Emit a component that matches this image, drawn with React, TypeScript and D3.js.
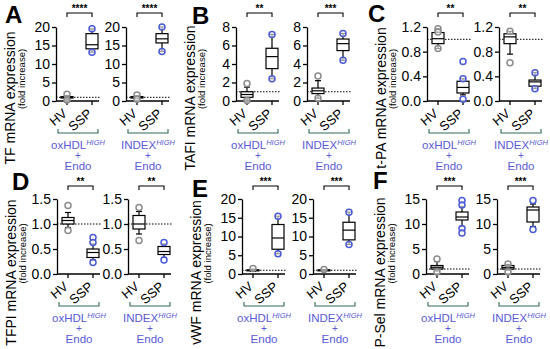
import { useRef, useEffect } from 'react';
import * as d3 from 'd3';

// values
const LETTERS = ['A', 'B', 'C', 'D', 'E', 'F'];
const GENES = ['TF', 'TAFI', 't-PA', 'TFPI', 'vWF', 'P-Sel'];
const Y_MAX = [20, 8, 1.2, 1.5, 20, 15];
const Y_TICKS = [
  [0, 5, 10, 15, 20],
  [0, 2, 4, 6, 8],
  [0, 0.4, 0.8, 1.2],
  [0, 0.5, 1.0, 1.5],
  [0, 5, 10, 15, 20],
  [0, 5, 10, 15],
];
const TICK_DECIMALS = [0, 0, 1, 1, 0, 0];
const CONDITIONS = ['oxHDL', 'INDEX'];
const GROUPS = ['HV', 'SSP'];
const STARS = [
  ['****', '****'],
  ['**', '***'],
  ['**', '**'],
  ['**', '**'],
  ['***', '***'],
  ['***', '***'],
];

// [low whisker, q1, median, q3, high whisker] per panel, per condition
const HV_BOX = [
  [[0.5, 0.8, 1.0, 1.2, 1.5], [0.6, 0.8, 1.0, 1.2, 1.4]],
  [[0.1, 0.4, 0.7, 1.0, 1.5], [0.3, 0.8, 1.1, 1.4, 2.2]],
  [[0.85, 0.93, 1.01, 1.11, 1.17], [0.76, 0.93, 1.04, 1.09, 1.13]],
  [[0.93, 1.0, 1.07, 1.13, 1.23], [0.8, 0.9, 1.0, 1.17, 1.25]],
  [[0.7, 0.9, 1.0, 1.1, 1.3], [0.8, 0.9, 1.0, 1.1, 1.2]],
  [[0.6, 1.0, 1.35, 1.7, 2.5], [0.8, 1.0, 1.3, 1.7, 1.9]],
];
const HV_POINTS = [
  [[1.8, 0.3], [1.6, 0.5]],
  [[1.9, 0.05], [2.7, 0.3]],
  [[1.17, 1.12, 0.85], [1.13, 0.62]],
  [[1.37, 0.87], [1.33, 0.67]],
  [[1.5], [1.2]],
  [[3.0, 0.4], [2.0, 0.4]],
];
const SSP_BOX = [
  [[13.2, 14.1, 15.2, 18.2, 19.5], [13.4, 15.7, 16.8, 18.2, 20.0]],
  [[2.4, 3.5, 4.8, 5.7, 7.2], [4.4, 5.45, 6.2, 6.7, 7.3]],
  [[0.1, 0.13, 0.22, 0.32, 0.36], [0.2, 0.24, 0.31, 0.34, 0.46]],
  [[0.28, 0.33, 0.43, 0.5, 0.6], [0.33, 0.39, 0.45, 0.55, 0.6]],
  [[5.4, 6.6, 9.6, 13.2, 15.4], [7.9, 9.1, 11.7, 13.8, 16.5]],
  [[9.5, 10.8, 11.4, 12.4, 13.5], [9.5, 10.4, 12.8, 13.4, 14.0]],
];
const SSP_POINTS = [
  [[19.5, 13.2], [20.0, 13.4]],
  [[7.2, 2.4], [7.3, 4.4]],
  [[0.64, 0.36, 0.03], [0.46, 0.2]],
  [[0.73, 0.63, 0.23], [0.63, 0.28]],
  [[15.4, 5.4], [16.5, 7.9]],
  [[14.7, 13.8, 9.1, 8.2], [14.7, 8.9]],
];

// layout
const AXIS_X = [[56, 126], [236, 307], [427, 499], [57, 128], [242, 313], [426, 497]];
const ROW_ZERO = [101, 274];
const ROW_TOP = [27, 199];
const LETTER_POS = [[5, 23], [192, 24], [368, 22], [12, 190], [192, 197], [373, 189]];
const FONT = '"Liberation Sans", Arial, sans-serif';
const BLUE = '#4b5bd4';
const GREY = '#8c8c8c';
const LABEL_BLUE = '#5a5ad6';
const BRACKET_GREEN = '#2e6b55';

export default function App() {
  const svgRef = useRef<SVGSVGElement>(null);

  useEffect(() => {
    if (!svgRef.current) return;
    const svg = d3.select(svgRef.current);
    svg.selectAll('*').remove();

    LETTERS.forEach((letter, p) => {
      const row = p < 3 ? 0 : 1;
      const zero = ROW_ZERO[row];
      const y = d3.scaleLinear().domain([0, Y_MAX[p]]).range([zero, ROW_TOP[row]]);
      const fmt = d3.format(`.${TICK_DECIMALS[p]}f`);
      const ax0 = AXIS_X[p][0];
      const midY = (ROW_TOP[row] + zero) / 2 + 34 + row * 2;

      // panel letter
      svg.append('text')
        .attr('x', LETTER_POS[p][0])
        .attr('y', LETTER_POS[p][1])
        .attr('font-size', 24)
        .attr('font-weight', 700)
        .attr('font-family', FONT)
        .text(letter);

      // y titles
      svg.append('text')
        .attr('transform', `translate(${ax0 - 41},${midY}) rotate(-90)`)
        .attr('text-anchor', 'middle')
        .attr('font-size', 14)
        .attr('font-family', FONT)
        .text(`${GENES[p]} mRNA expression`);
      svg.append('text')
        .attr('transform', `translate(${ax0 - 31},${midY - 19}) rotate(-90)`)
        .attr('text-anchor', 'middle')
        .attr('font-size', 9.5)
        .attr('font-family', FONT)
        .text('(fold increase)');

      CONDITIONS.forEach((cond, c) => {
        const ax = AXIS_X[p][c];
        const x = d3.scalePoint<string>().domain(GROUPS).range([ax + 11, ax + 36]);
        const g = svg.append('g');

        // y axis
        const yAxis = d3.axisLeft(y)
          .tickValues(Y_TICKS[p])
          .tickSize(4)
          .tickSizeOuter(0)
          .tickPadding(2)
          .tickFormat((d) => fmt(d as number));
        const ya = g.append('g').attr('transform', `translate(${ax},0)`).call(yAxis);
        ya.selectAll('path, line').attr('stroke', '#000').attr('stroke-width', 1.3);
        ya.selectAll('text').attr('font-size', 14).attr('font-family', FONT).attr('fill', '#000');

        // x axis
        g.append('line')
          .attr('x1', ax).attr('x2', ax + 43)
          .attr('y1', zero).attr('y2', zero)
          .attr('stroke', '#000').attr('stroke-width', 1.3);
        GROUPS.forEach((grp) => {
          g.append('line')
            .attr('x1', x(grp)!).attr('x2', x(grp)!)
            .attr('y1', zero).attr('y2', zero + 4)
            .attr('stroke', '#000').attr('stroke-width', 1.3);
          g.append('text')
            .attr('transform', `translate(${x(grp)! + 1},${zero + 14}) rotate(-40)`)
            .attr('text-anchor', 'end')
            .attr('font-size', 13)
            .attr('font-family', FONT)
            .text(grp);
        });

        // reference line at 1
        g.append('line')
          .attr('x1', ax).attr('x2', ax + 45)
          .attr('y1', y(1)).attr('y2', y(1))
          .attr('stroke', '#000').attr('stroke-width', 1)
          .attr('stroke-dasharray', '1.5,1.5');

        // boxes
        const boxes = [HV_BOX[p][c], SSP_BOX[p][c]];
        const points = [HV_POINTS[p][c], SSP_POINTS[p][c]];
        const colors = [GREY, BLUE];
        GROUPS.forEach((grp, k) => {
          const [lo, q1, med, q3, hi] = boxes[k];
          const cx = x(grp)!;
          const bw = 12;
          g.append('line')
            .attr('x1', cx).attr('x2', cx)
            .attr('y1', y(lo)).attr('y2', y(hi))
            .attr('stroke', '#000').attr('stroke-width', 1.2);
          [lo, hi].forEach((v) => {
            g.append('line')
              .attr('x1', cx - 3).attr('x2', cx + 3)
              .attr('y1', y(v)).attr('y2', y(v))
              .attr('stroke', '#000').attr('stroke-width', 1.2);
          });
          g.append('rect')
            .attr('x', cx - bw / 2).attr('width', bw)
            .attr('y', y(q3)).attr('height', Math.max(y(q1) - y(q3), 1))
            .attr('fill', '#fff').attr('stroke', '#000').attr('stroke-width', 1.2);
          g.append('line')
            .attr('x1', cx - bw / 2).attr('x2', cx + bw / 2)
            .attr('y1', y(med)).attr('y2', y(med))
            .attr('stroke', '#000').attr('stroke-width', 1.2);
          points[k].forEach((v) => {
            g.append('circle')
              .attr('cx', cx).attr('cy', y(v)).attr('r', 3)
              .attr('fill', '#fff').attr('fill-opacity', 0.6)
              .attr('stroke', colors[k]).attr('stroke-width', 1.5);
          });
        });

        // significance bracket
        const sy = zero - 88;
        g.append('path')
          .attr('d', `M${x('HV')},${sy + 4}V${sy}H${x('SSP')}V${sy + 4}`)
          .attr('fill', 'none').attr('stroke', '#000').attr('stroke-width', 1.1);
        g.append('text')
          .attr('x', (x('HV')! + x('SSP')!) / 2)
          .attr('y', sy - 1)
          .attr('text-anchor', 'middle')
          .attr('font-size', 10)
          .attr('font-weight', 700)
          .attr('font-family', FONT)
          .text(STARS[p][c]);

        // condition bracket + label
        const by = zero + 32;
        g.append('path')
          .attr('d', `M${ax + 2},${by - 4}V${by}H${ax + 42}V${by - 4}`)
          .attr('fill', 'none').attr('stroke', BRACKET_GREEN).attr('stroke-width', 1.1);
        const cxm = ax + 22;
        const t = g.append('text')
          .attr('x', cxm).attr('y', zero + 48)
          .attr('text-anchor', 'middle')
          .attr('font-size', 11.5)
          .attr('font-family', FONT)
          .attr('fill', LABEL_BLUE);
        t.append('tspan').text(cond);
        t.append('tspan')
          .attr('dy', -4)
          .attr('font-size', 7.5)
          .attr('font-style', 'italic')
          .text('HIGH');
        g.append('text')
          .attr('x', cxm).attr('y', zero + 58)
          .attr('text-anchor', 'middle')
          .attr('font-size', 10)
          .attr('font-family', FONT)
          .attr('fill', LABEL_BLUE)
          .text('+');
        g.append('text')
          .attr('x', cxm).attr('y', zero + 69)
          .attr('text-anchor', 'middle')
          .attr('font-size', 11.5)
          .attr('font-family', FONT)
          .attr('fill', LABEL_BLUE)
          .text('Endo');
      });
    });
  }, []);

  return (
    <svg
      ref={svgRef}
      width={550}
      height={349}
      style={{ position: 'absolute', left: 0, top: 0, background: '#fff' }}
    />
  );
}
